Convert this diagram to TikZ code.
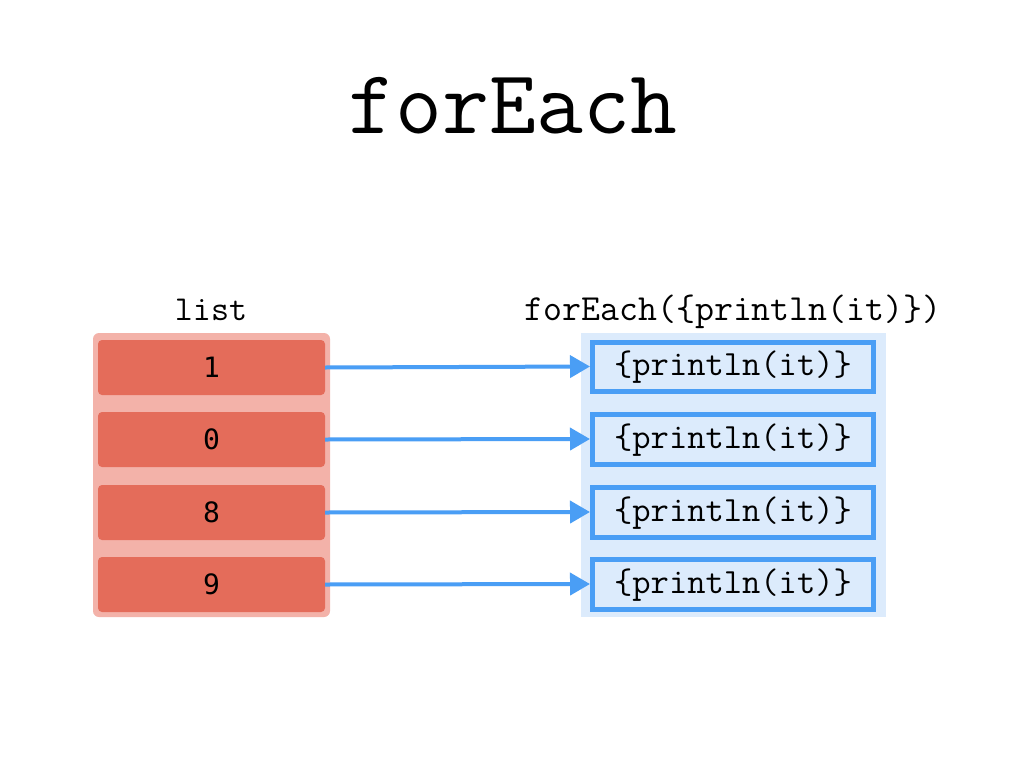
\documentclass[tikz,border=0pt]{standalone}
\usepackage{fontspec}
\newfontfamily\digitfont{DejaVu Sans Mono}
\usetikzlibrary{arrows.meta}
\definecolor{listouter}{HTML}{F3B2A9}
\definecolor{listitem}{HTML}{E46C5A}
\definecolor{fnblue}{HTML}{4A9EF5}
\definecolor{fnfill}{HTML}{DCEBFC}
\begin{document}
\begin{tikzpicture}[x=1pt,y=-1pt,
  itembox/.style={fill=listitem, rounded corners=4pt},
  fnbox/.style={draw=fnblue, line width=5pt, fill=fnfill},
  conn/.style={draw=fnblue, line width=4pt, -{Triangle[length=20pt,width=22pt]}},
  codetext/.style={font=\fontsize{35.5}{40}\selectfont\ttfamily},
  digittext/.style={font=\fontsize{28}{30}\selectfont\digitfont}]
\useasboundingbox (0,0) rectangle (1024,768);
\fill[white] (0,0) rectangle (1024,768);

% title
\node[font=\fontsize{91}{100}\selectfont\ttfamily, anchor=base] (title) at (513,133) {forEach};

% group labels
\node[font=\fontsize{35}{40}\selectfont\ttfamily, anchor=base] (listlabel) at (211,320) {list};
\node[font=\fontsize{36.8}{40}\selectfont\ttfamily, anchor=base] (fnlabel) at (733,320) {forEach(\{println(it)\})};

% list container and the function container
\fill[listouter, rounded corners=6pt] (93,333) rectangle (330,617);
\fill[fnfill] (581,333) rectangle (886,617);

% list items
\foreach \i/\v/\t/\b in {1/1/340/395, 2/0/412/467, 3/8/485/540, 4/9/557/612} {
  \path[itembox] (98,\t) rectangle (325,\b);
  \node[digittext] (item\i) at (211.5,{(\t+\b)/2}) {\v};
  \coordinate (src\i) at (325,{(\t+\b)/2});
}

% lambda calls
\foreach \i/\t/\b in {1/342/391, 2/414/464, 3/487/537, 4/559/609} {
  \draw[fnbox] (592.5,\t) rectangle (873.5,\b);
  \node[codetext] (call\i) at (733,{(\t+\b)/2+1}) {\{println(it)\}};
  \coordinate (dst\i) at (590,{(\t+\b)/2});
}

% connectors
\foreach \i in {1,2,3,4} {
  \draw[conn] (src\i) -- (dst\i);
}
\end{tikzpicture}
\end{document}
